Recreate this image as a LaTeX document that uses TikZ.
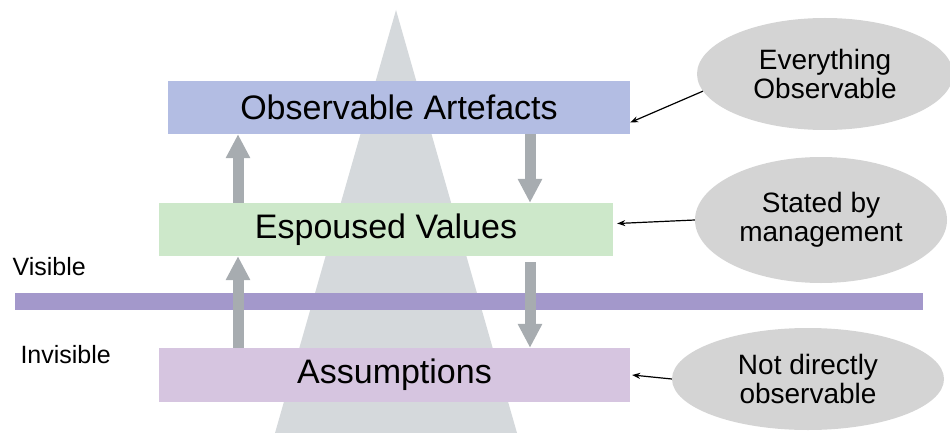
\documentclass[tikz,border=0pt]{standalone}
\usepackage{fontspec}
\setmainfont{Liberation Sans}
\usetikzlibrary{arrows.meta,shapes.geometric,positioning,calc}
\definecolor{obsblue}{HTML}{B3BDE3}
\definecolor{espgreen}{HTML}{CDE8CA}
\definecolor{asspurple}{HTML}{D6C5E0}
\definecolor{barpurple}{HTML}{A398CB}
\definecolor{icegray}{HTML}{D5D9DC}
\definecolor{arrowgray}{HTML}{A7ACB0}
\definecolor{cloudgray}{HTML}{D4D4D4}

\begin{document}
\begin{tikzpicture}[x=1pt, y=-1pt,
    layer/.style={rectangle, inner sep=0pt, font=\fontsize{34}{40}\selectfont},
    cloud/.style={ellipse, fill=cloudgray, inner sep=0pt, align=center, font=\fontsize{28}{29}\selectfont},
    fatarrow/.style={draw=arrowgray, line width=11pt, -{Triangle[length=24pt,width=23pt]}},
    pointer/.style={draw=black, line width=1.2pt, -{Stealth[length=8pt,width=6pt]}},
    side/.style={font=\fontsize{25}{30}\selectfont}]
    \useasboundingbox (0,0) rectangle (950,433);

    % Iceberg
    \fill[icegray] (396,10) -- (517,433) -- (275,433) -- cycle;

    % Visible / invisible border
    \fill[barpurple] (15,293) rectangle (923,310);
    \node[side, anchor=west] (vis) at (9,267) {Visible};
    \node[side, anchor=west] (invis) at (17,355) {Invisible};

    % Levels
    \node[layer, fill=obsblue, minimum width=462pt, minimum height=53pt] (oa) at (399,107.5) {Observable Artefacts};
    \node[layer, fill=espgreen, minimum width=454pt, minimum height=53pt] (ev) at (386,229.5) {Espoused Values};
    \node[layer, fill=asspurple, minimum width=471pt, minimum height=54pt] (as) at (394.5,375) {Assumptions};

    \coordinate (upx) at (238,0);
    \coordinate (dnx) at (530,0);
    \draw[fatarrow] (ev.north -| upx) -- (oa.south -| upx);
    \draw[fatarrow] (oa.south -| dnx) -- (ev.north -| dnx);
    \draw[fatarrow] (as.north -| upx) -- (ev.south -| upx);
    \draw[fatarrow, shorten <=6pt] (ev.south -| dnx) -- (as.north -| dnx);

    % Comments
    \node[cloud, minimum width=256pt, minimum height=112pt] (e1) at (825,74) {Everything\\Observable};
    \node[cloud, minimum width=252pt, minimum height=126pt] (e2) at (821,220) {Stated by\\management};
    \node[cloud, minimum width=272pt, minimum height=102pt] (e3) at (808,379) {Not directly\\observable};

    \draw[pointer] (e1.188) -- ([yshift=-15pt]oa.east);
    \draw[pointer] (e2.west) -- ([xshift=4pt,yshift=6pt]ev.east);
    \draw[pointer] (e3.west) -- ([xshift=2pt]as.east);
\end{tikzpicture}
\end{document}
